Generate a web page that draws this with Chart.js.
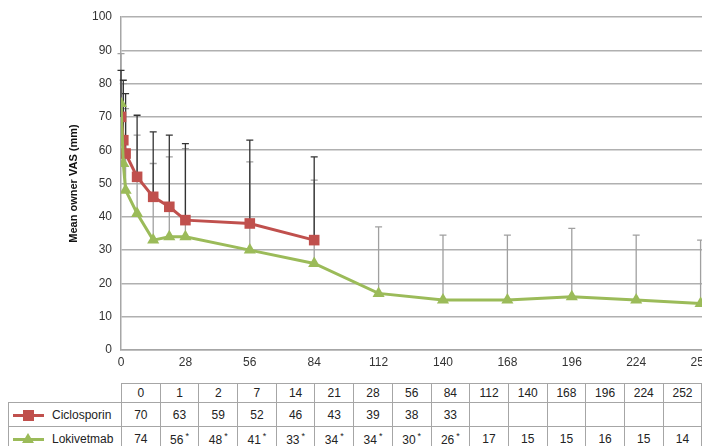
<!DOCTYPE html>
<html>
<head>
<meta charset="utf-8">
<script src="https://cdn.jsdelivr.net/npm/chart.js"></script>
<style>
html, body { margin: 0; padding: 0; background: #fff; overflow: hidden; width: 702px; height: 446px; }
#wrap { position: absolute; left: 0; top: 0; width: 780px; height: 380px; }
#tbl { position: absolute; left: 8px; top: 383px; border-collapse: collapse; table-layout: fixed; width: 694px;
       font-family: "Liberation Sans", sans-serif; font-size: 12px; color: #222; }
#tbl td { border: 1px solid #a6a6a6; text-align: center; padding: 0; white-space: nowrap; }
#tbl td.blank { border: none; }
#tbl td.name { text-align: left; padding-left: 4px; }
#tbl tr.head td { height: 18px; }
#tbl tr.row td { height: 23px; }
.mk { display: inline-block; position: relative; width: 31px; height: 12px; vertical-align: middle; margin-right: 8px; }
.mk .ln { position: absolute; left: 0; top: 5px; width: 31px; height: 3px; }
.mk .sq { position: absolute; left: 10px; top: 1px; width: 11px; height: 11px; }
.mk .tri { position: absolute; left: 9px; top: 0px; width: 0; height: 0; border-left: 6.5px solid transparent; border-right: 6.5px solid transparent; border-bottom: 10px solid #9bbb59; }
sup { font-size: 9px; margin-left: 2px; vertical-align: 5px; }
</style>
</head>
<body>
<div id="wrap"><canvas id="chart"></canvas></div>
<table id="tbl"></table>
<script>
"use strict"

const days = [0, 1, 2, 7, 14, 21, 28, 56, 84, 112, 140, 168, 196, 224, 252];
const ciclosporin = [70, 63, 59, 52, 46, 43, 39, 38, 33];
const lokivetmab = [74, 56, 48, 41, 33, 34, 34, 30, 26, 17, 15, 15, 16, 15, 14];
const ciclosporinUpper = [84, 81, 77, 70.5, 65.5, 64.5, 62, 63, 58];
const lokivetmabUpper = [89, 80, 72.5, 64.5, 56, 58, 60.5, 56.5, 51, 37, 34.5, 34.5, 36.5, 34.5, 33];
const lokivetmabSignificant = [0, 1, 1, 1, 1, 1, 1, 1, 1, 0, 0, 0, 0, 0, 0];
const xTicks = [0, 28, 56, 84, 112, 140, 168, 196, 224, 252, 280];
const yTicks = [0, 10, 20, 30, 40, 50, 60, 70, 80, 90, 100];

const red = "#c0504d";
const green = "#9bbb59";

function toPoints(values) {
    let pts = [];
    for (let i = 0; i < values.length; i++) {
        pts.push({ x: days[i], y: values[i] });
    }
    return pts;
}

// upper error bars, drawn behind the lines
const errorBars = {
    id: "errorBars",
    beforeDatasetsDraw(chart) {
        const ctx = chart.ctx;
        const yScale = chart.scales.y;
        ctx.save();
        [1, 0].forEach(function (i) {
            const ds = chart.data.datasets[i];
            const meta = chart.getDatasetMeta(i);
            ctx.strokeStyle = ds.errorColor;
            ctx.lineWidth = 1.3;
            meta.data.forEach(function (pt, j) {
                const top = yScale.getPixelForValue(ds.upper[j]);
                ctx.beginPath();
                ctx.moveTo(pt.x, pt.y);
                ctx.lineTo(pt.x, top);
                ctx.moveTo(pt.x - 3.5, top);
                ctx.lineTo(pt.x + 3.5, top);
                ctx.stroke();
            });
        });
        ctx.restore();
    }
};

const data = {
    datasets: [
        {
            label: "Ciclosporin",
            data: toPoints(ciclosporin),
            upper: ciclosporinUpper,
            errorColor: "#333333",
            borderColor: red,
            backgroundColor: red,
            borderWidth: 3,
            pointStyle: "rect",
            pointRadius: 7.5,
            pointBorderWidth: 0,
            order: 1,
        },
        {
            label: "Lokivetmab",
            data: toPoints(lokivetmab),
            upper: lokivetmabUpper,
            errorColor: "#a0a0a0",
            borderColor: green,
            backgroundColor: green,
            borderWidth: 3,
            pointStyle: "triangle",
            pointRadius: 7,
            pointBorderWidth: 0,
            order: 0,
        },
    ]
};

const tickFont = { family: "Liberation Sans", size: 12 };

const config = {
    type: "line",
    data: data,
    plugins: [errorBars],
    options: {
        responsive: true,
        maintainAspectRatio: false,
        animation: false,
        layout: { padding: { left: 63, top: 17, right: 14, bottom: 0 } },
        plugins: { legend: { display: false }, tooltip: { enabled: false } },
        scales: {
            x: {
                type: "linear",
                min: 0,
                max: 280,
                afterBuildTicks: function (scale) { scale.ticks = xTicks.map(v => ({ value: v })); },
                afterFit: function (scale) { scale.height = 30; },
                grid: { display: false, drawTicks: false },
                border: { display: true, color: "#a6a6a6", width: 1.5 },
                ticks: { font: tickFont, color: "#333", padding: 5, maxRotation: 0 },
            },
            y: {
                min: 0,
                max: 100,
                afterBuildTicks: function (scale) { scale.ticks = yTicks.map(v => ({ value: v })); },
                afterFit: function (scale) { scale.width = 58; },
                grid: { color: "#b0b0b0", lineWidth: 1.5, drawTicks: false },
                border: { display: true, color: "#a6a6a6", width: 1.5 },
                ticks: { font: tickFont, color: "#333", padding: 9 },
                title: {
                    display: true,
                    text: "Mean owner VAS (mm)",
                    font: { family: "Liberation Sans", size: 11, weight: "bold" },
                    color: "#111",
                    padding: { top: 4, bottom: 4 },
                },
            },
        },
    },
};

const myChart = new Chart(document.getElementById("chart"), config);

// the data table under the chart
function renderTable() {
    const table = document.getElementById("tbl");
    let html = '<colgroup><col style="width:113px">';
    for (let i = 0; i < days.length; i++) html += '<col style="width:38.7px">';
    html += "</colgroup>";

    html += '<tr class="head"><td class="blank"></td>';
    for (let i = 0; i < days.length; i++) html += "<td>" + days[i] + "</td>";
    html += "</tr>";

    html += '<tr class="row"><td class="name"><span class="mk"><span class="ln" style="background:' + red +
        '"></span><span class="sq" style="background:' + red + '"></span></span>Ciclosporin</td>';
    for (let i = 0; i < days.length; i++) {
        html += "<td>" + (i < ciclosporin.length ? ciclosporin[i] : "") + "</td>";
    }
    html += "</tr>";

    html += '<tr class="row"><td class="name"><span class="mk"><span class="ln" style="background:' + green +
        '"></span><span class="tri"></span></span>Lokivetmab</td>';
    for (let i = 0; i < days.length; i++) {
        html += "<td>" + lokivetmab[i] + (lokivetmabSignificant[i] ? "<sup>*</sup>" : "") + "</td>";
    }
    html += "</tr>";
    table.innerHTML = html;
}

renderTable();
</script>
</body>
</html>
